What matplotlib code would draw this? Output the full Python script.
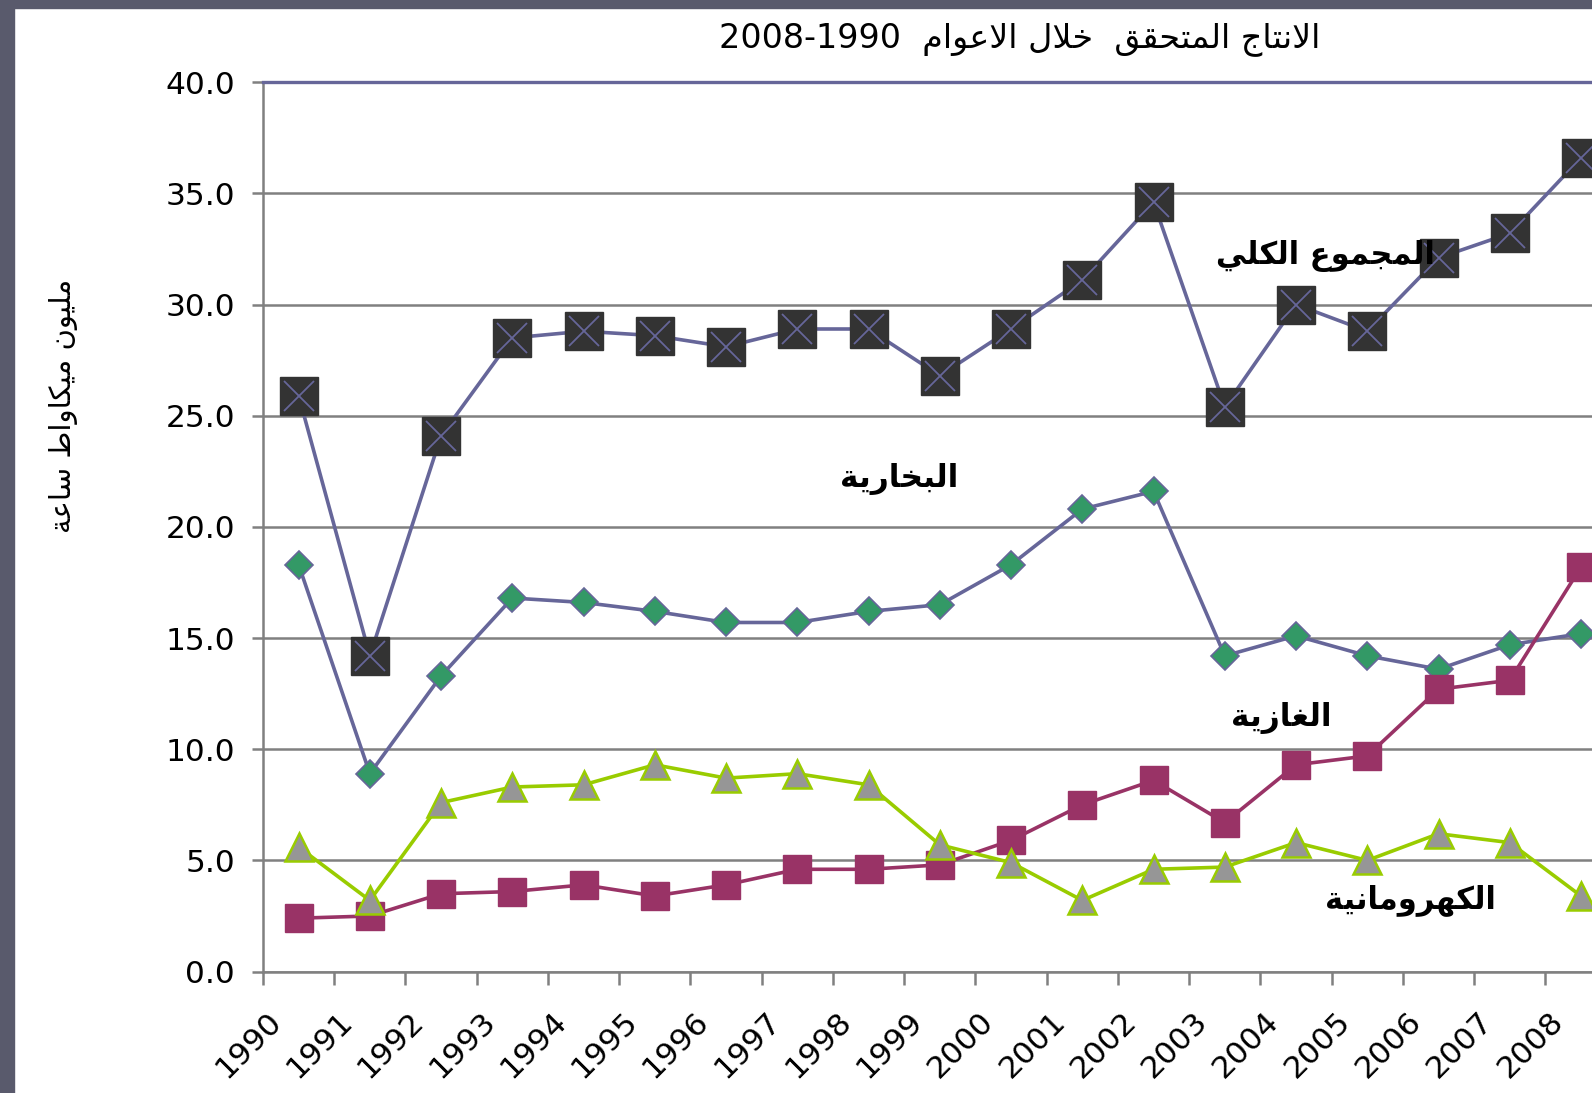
import numpy as np
import matplotlib.pyplot as plt
from matplotlib.patches import Rectangle
from matplotlib.transforms import ScaledTranslation

years = [str(y) for y in range(1990, 2009)]
total = [25.9, 14.2, 24.1, 28.5, 28.8, 28.6, 28.1, 28.9, 28.9, 26.8,
         28.9, 31.1, 34.6, 25.4, 30.0, 28.8, 32.1, 33.2, 36.6]
steam = [18.3, 8.9, 13.3, 16.8, 16.6, 16.2, 15.7, 15.7, 16.2, 16.5,
         18.3, 20.8, 21.6, 14.2, 15.1, 14.2, 13.6, 14.7, 15.2]
gas = [2.4, 2.5, 3.5, 3.6, 3.9, 3.4, 3.9, 4.6, 4.6, 4.8,
       5.9, 7.5, 8.6, 6.7, 9.3, 9.7, 12.7, 13.1, 18.2]
hydro = [5.6, 3.2, 7.6, 8.3, 8.4, 9.3, 8.7, 8.9, 8.4, 5.7,
         4.9, 3.2, 4.6, 4.7, 5.8, 5.0, 6.2, 5.8, 3.4]

title_ar = 'الانتاج المتحقق  خلال الاعوام'
title_years = '2008-1990'
ylabel_ar = 'مليون ميكاواط ساعة'
lbl_total = 'المجموع الكلي'
lbl_steam = 'البخارية'
lbl_gas = 'الغازية'
lbl_hydro = 'الكهرومانية'

# matplotlib has no arabic shaping / bidi, so do it by hand
# (isolated, final, initial, medial)
FORMS = {
    'ا': ('\ufe8d', '\ufe8e', None, None),
    'ب': ('\ufe8f', '\ufe90', '\ufe91', '\ufe92'),
    'ة': ('\ufe93', '\ufe94', None, None),
    'ت': ('\ufe95', '\ufe96', '\ufe97', '\ufe98'),
    'ج': ('\ufe9d', '\ufe9e', '\ufe9f', '\ufea0'),
    'ح': ('\ufea1', '\ufea2', '\ufea3', '\ufea4'),
    'خ': ('\ufea5', '\ufea6', '\ufea7', '\ufea8'),
    'د': ('\ufea9', '\ufeaa', None, None),
    'ر': ('\ufead', '\ufeae', None, None),
    'ز': ('\ufeaf', '\ufeb0', None, None),
    'س': ('\ufeb1', '\ufeb2', '\ufeb3', '\ufeb4'),
    'ط': ('\ufec1', '\ufec2', '\ufec3', '\ufec4'),
    'ع': ('\ufec9', '\ufeca', '\ufecb', '\ufecc'),
    'غ': ('\ufecd', '\ufece', '\ufecf', '\ufed0'),
    'ق': ('\ufed5', '\ufed6', '\ufed7', '\ufed8'),
    'ك': ('\ufed9', '\ufeda', '\ufedb', '\ufedc'),
    'ل': ('\ufedd', '\ufede', '\ufedf', '\ufee0'),
    'م': ('\ufee1', '\ufee2', '\ufee3', '\ufee4'),
    'ن': ('\ufee5', '\ufee6', '\ufee7', '\ufee8'),
    'ه': ('\ufee9', '\ufeea', '\ufeeb', '\ufeec'),
    'و': ('\ufeed', '\ufeee', None, None),
    'ي': ('\ufef1', '\ufef2', '\ufef3', '\ufef4'),
}


def ar(text):
    res = []
    prev = False
    i = 0
    while i < len(text):
        c = text[i]
        if c not in FORMS:
            res.append(c)
            prev = False
            i += 1
            continue
        if c == 'ل' and i + 1 < len(text) and text[i + 1] == 'ا':
            res.append('\ufefc' if prev else '\ufefb')
            prev = False
            i += 2
            continue
        nxt = text[i + 1] if i + 1 < len(text) else ''
        iso, fin, ini, med = FORMS[c]
        conn = ini is not None and nxt in FORMS
        if prev and conn:
            g = med
        elif prev:
            g = fin
        elif conn:
            g = ini
        else:
            g = iso
        res.append(g)
        prev = ini is not None
        i += 1
    return ''.join(reversed(res))


plt.rcParams['font.family'] = ['DejaVu Sans']

fig = plt.figure(figsize=(15.92, 10.93), dpi=100)
fig.patches.append(Rectangle((0, 0), 14 / 1592, 1, transform=fig.transFigure,
                             color='#595a6c', zorder=0))
fig.patches.append(Rectangle((0, 1 - 8 / 1093), 1, 8 / 1093, transform=fig.transFigure,
                             color='#595a6c', zorder=0))

ax = fig.add_axes([263 / 1592, 0.1111, 0.8503, 0.8137])
x = np.arange(len(years))

ax.plot(x, total, color='#666699', lw=2.6, zorder=3)
ax.plot(x, total, ls='none', marker='s', ms=27, mfc='#333333', mec='#333333', zorder=4)
ax.plot(x, total, ls='none', marker='x', ms=21, mec='#666699', mew=1.3, zorder=5)
ax.plot(x, steam, color='#666699', lw=2.6, marker='D', ms=14.5,
        mfc='#339966', mec='#666699', mew=1.2, zorder=3)
ax.plot(x, gas, color='#993366', lw=2.6, marker='s', ms=20,
        mfc='#993366', mec='#993366', zorder=3)
ax.plot(x, hydro, color='#99cc00', lw=2.6, marker='^', ms=20,
        mfc='#969696', mec='#99cc00', mew=1.8, zorder=3)

ax.set_xlim(-0.5, len(years) - 0.5)
ax.set_ylim(0, 40)
ax.set_yticks(np.arange(0, 41, 5))
ax.set_yticklabels([f'{v:.1f}' for v in np.arange(0, 41, 5)], fontsize=22.5)
ax.yaxis.grid(True, color='#808080', lw=1.8)
ax.set_axisbelow(True)

ax.set_xticks(x)
ax.set_xticklabels(years, fontsize=22.5, rotation=45, ha='right', va='top',
                   rotation_mode='anchor')
ax.set_xticks(np.arange(-0.5, len(years)), minor=True)
ax.tick_params(axis='x', which='major', length=0, pad=25)
ax.tick_params(axis='x', which='minor', length=9, width=1.8, color='#808080')
ax.tick_params(axis='y', length=8, width=1.8, color='#808080', pad=12)
for lab in ax.get_xticklabels():
    lab.set_transform(lab.get_transform() + ScaledTranslation(-0.32, 0, fig.dpi_scale_trans))

for s in ['left', 'bottom']:
    ax.spines[s].set_color('#808080')
    ax.spines[s].set_linewidth(1.8)
ax.spines['top'].set_color('#666699')
ax.spines['top'].set_linewidth(2.4)
ax.spines['right'].set_visible(False)

ax.text(14.41, 32.2, ar(lbl_total), fontsize=22, fontweight='bold', ha='center', va='center', zorder=6)
ax.text(8.43, 22.15, ar(lbl_steam), fontsize=22.5, fontweight='bold', ha='center', va='center', zorder=6)
ax.text(13.79, 11.4, ar(lbl_gas), fontsize=22.5, fontweight='bold', ha='center', va='center', zorder=6)
ax.text(15.6, 3.22, ar(lbl_hydro), fontsize=22, fontweight='bold', ha='center', va='center', zorder=6)

fig.text(0.6407, 0.964, title_years + '  ' + ar(title_ar), fontsize=24, ha='center', va='center')
fig.text(0.0396, 0.6285, ar(ylabel_ar), fontsize=21, rotation=90, ha='center', va='center')

fig.savefig('out.png', dpi=100)
